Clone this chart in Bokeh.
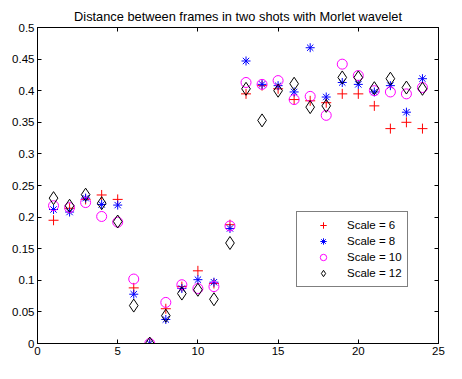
from bokeh.plotting import figure
from bokeh.models import (LinearAxis, FixedTicker, Range1d, Legend, LegendItem,
                          CustomJSTickFormatter)
from bokeh.embed import file_html
from bokeh.resources import INLINE

title_text = "Distance between frames in two shots with Morlet wavelet"
frames = list(range(1, 25))
scale6 = [0.195, 0.214, 0.228, 0.235, 0.228, 0.088, 0.0, 0.055, 0.090, 0.115, 0.095, 0.188,
          0.395, 0.408, 0.403, 0.386, 0.384, 0.381, 0.395, 0.395, 0.376, 0.340, 0.350, 0.340]
scale8 = [0.212, 0.208, 0.230, 0.220, 0.219, 0.078, 0.0, 0.038, 0.087, 0.101, 0.097, 0.182,
          0.447, 0.410, 0.408, 0.398, 0.468, 0.390, 0.413, 0.410, 0.398, 0.408, 0.366, 0.419]
scale10 = [0.218, 0.215, 0.223, 0.201, 0.192, 0.102, 0.0, 0.065, 0.093, 0.087, 0.090, 0.186,
           0.413, 0.410, 0.416, 0.386, 0.391, 0.361, 0.442, 0.424, 0.400, 0.398, 0.395, 0.405]
scale12 = [0.230, 0.218, 0.2355, 0.222, 0.193, 0.060, 0.0, 0.044, 0.079, 0.085, 0.070, 0.159,
           0.403, 0.353, 0.400, 0.411, 0.374, 0.376, 0.421, 0.421, 0.404, 0.419, 0.405, 0.403]
legend_labels = ["Scale = 6", "Scale = 8", "Scale = 10", "Scale = 12"]
x_ticks = [0, 5, 10, 15, 20, 25]
y_ticks = [0, 0.05, 0.1, 0.15, 0.2, 0.25, 0.3, 0.35, 0.4, 0.45, 0.5]
y_tick_labels = ["0", "0.05", "0.1", "0.15", "0.2", "0.25", "0.3", "0.35", "0.4", "0.45", "0.5"]

FONT = "Liberation Sans"

p = figure(width=446, height=363, output_backend="svg", toolbar_location=None,
           x_range=Range1d(0, 25), y_range=Range1d(0, 0.5),
           min_border_left=37, min_border_right=8, min_border_top=27, min_border_bottom=20,
           x_axis_location=None, y_axis_location=None)
p.grid.visible = False
p.outline_line_color = "black"
p.outline_line_width = 1
p.background_fill_color = "white"
p.border_fill_color = "white"

p.title.text = title_text
p.title.align = "center"
p.title.text_font = FONT
p.title.text_font_size = "12.8px"
p.title.text_font_style = "normal"
p.title.text_color = "black"
p.title.standoff = 8

def make_axis(labels=True, ticks=None, overrides=None):
    ax = LinearAxis(ticker=FixedTicker(ticks=ticks))
    ax.major_tick_in = 4
    ax.major_tick_out = 0
    ax.minor_tick_in = 0
    ax.minor_tick_out = 0
    ax.axis_line_color = "black"
    ax.major_tick_line_color = "black"
    ax.major_label_text_font = FONT
    ax.major_label_text_font_size = "11.5px"
    ax.major_label_text_color = "black"
    ax.major_label_standoff = 3
    if overrides:
        ax.major_label_overrides = overrides
    if not labels:
        ax.formatter = CustomJSTickFormatter(code="return '';")
        ax.major_label_standoff = 0
        ax.major_label_text_font_size = "1px"
    return ax

p.add_layout(make_axis(True, x_ticks), "below")
p.add_layout(make_axis(True, y_ticks, {v: s for v, s in zip(y_ticks, y_tick_labels)}), "left")
p.add_layout(make_axis(False, x_ticks), "above")
p.add_layout(make_axis(False, y_ticks), "right")

r6 = p.scatter(frames, scale6, marker="cross", size=10, line_color="red", line_width=1)
r8 = p.scatter(frames, scale8, marker="asterisk", size=9, line_color="blue", line_width=1)
r10 = p.scatter(frames, scale10, marker="circle", size=10, line_color="magenta",
                fill_color=None, line_width=1)
r12 = p.scatter(frames, scale12, marker="diamond", size=13, line_color="black",
                fill_color=None, line_width=1)

legend = Legend(items=[LegendItem(label=l, renderers=[r]) for l, r in
                       zip(legend_labels, [r6, r8, r10, r12])],
                location=(259, 56))
legend.label_text_font = FONT
legend.label_text_font_size = "11.5px"
legend.label_text_color = "black"
legend.border_line_color = "black"
legend.border_line_width = 1
legend.background_fill_alpha = 1
legend.padding = 5
legend.margin = 0
legend.spacing = 0
legend.glyph_width = 42
legend.glyph_height = 16
legend.label_height = 16
legend.label_standoff = 3
p.add_layout(legend, "center")

open("out.html", "w").write(file_html(p, INLINE))
